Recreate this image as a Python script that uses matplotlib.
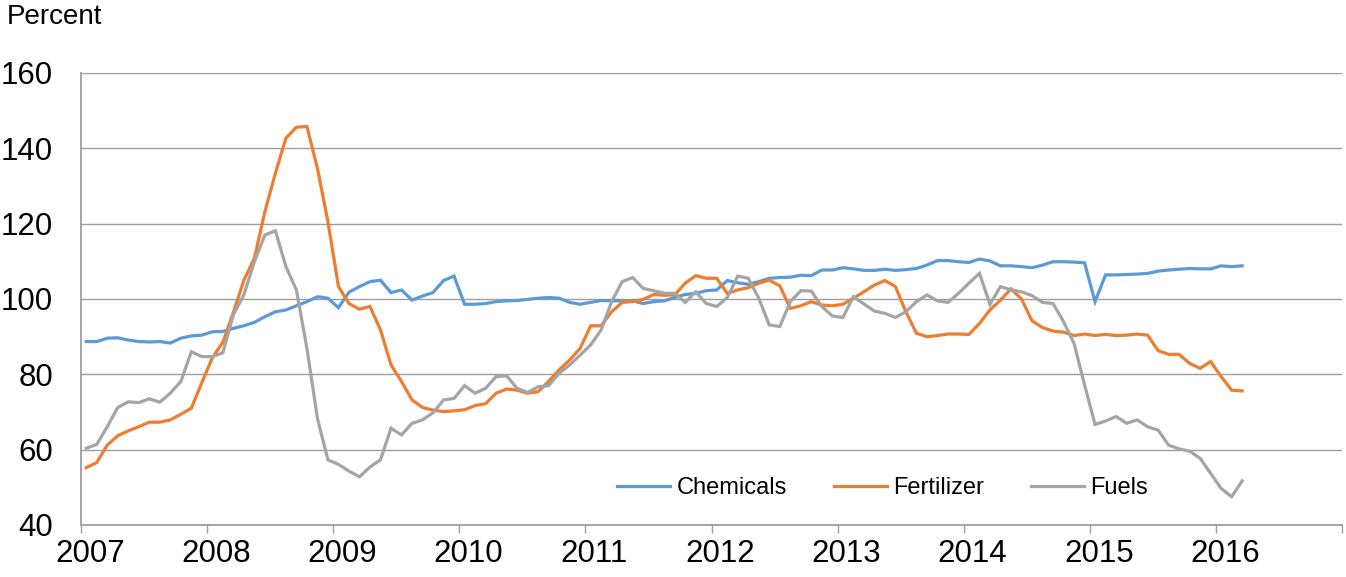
import numpy as np
import matplotlib
matplotlib.use("Agg")
import matplotlib.pyplot as plt

plt.rcParams['font.family'] = ['Liberation Sans', 'DejaVu Sans']

# Monthly data, Jan 2007 - Mar 2016
start_year = 2007
year_labels = ['2007', '2008', '2009', '2010', '2011', '2012', '2013', '2014', '2015', '2016']
y_ticks = [40, 60, 80, 100, 120, 140, 160]

chemicals = [
    88.7, 88.7, 89.6, 89.7, 89.1, 88.7, 88.6, 88.7, 88.3, 89.6, 90.2, 90.4,
    91.3, 91.4, 92.2, 92.9, 93.8, 95.3, 96.6, 97.1, 98.2, 99.3, 100.6, 100.2,
    97.7, 101.8, 103.3, 104.6, 105.0, 101.7, 102.4, 99.7, 100.8, 101.7, 104.9, 106.1,
    98.6, 98.6, 98.8, 99.3, 99.5, 99.6, 99.9, 100.2, 100.4, 100.2, 99.1, 98.6,
    99.1, 99.6, 99.5, 99.5, 99.5, 98.8, 99.3, 99.5, 100.4, 101.2, 101.5, 102.2,
    102.4, 104.9, 104.3, 103.9, 104.6, 105.5, 105.7, 105.8, 106.3, 106.2, 107.7, 107.7,
    108.3, 108.0, 107.6, 107.6, 107.9, 107.6, 107.8, 108.1, 109.0, 110.2, 110.2, 109.9,
    109.7, 110.6, 110.1, 108.8, 108.8, 108.6, 108.3, 109.0, 109.9, 109.9, 109.8, 109.6,
    99.3, 106.4, 106.4, 106.5, 106.6, 106.8, 107.4, 107.7, 107.9, 108.1, 108.0, 108.0,
    108.8, 108.6, 108.8,
]

fertilizer = [
    55.2, 56.6, 61.2, 63.7, 65.0, 66.1, 67.3, 67.3, 67.9, 69.4, 71.0, 77.8,
    84.4, 88.5, 96.4, 105.0, 110.8, 123.2, 133.4, 142.7, 145.6, 145.8, 134.7, 120.5,
    103.3, 98.8, 97.3, 98.0, 91.8, 82.5, 78.1, 73.2, 71.2, 70.5, 70.1, 70.3,
    70.6, 71.7, 72.2, 75.0, 76.1, 75.8, 75.0, 75.4, 78.1, 81.2, 83.8, 86.9,
    92.9, 92.9, 96.6, 99.1, 99.3, 99.9, 101.2, 101.0, 101.1, 104.2, 106.2, 105.5,
    105.5, 101.5, 102.4, 103.0, 104.2, 105.0, 103.5, 97.5, 98.2, 99.3, 98.4, 98.2,
    98.6, 100.2, 101.9, 103.7, 104.9, 103.3, 96.6, 90.9, 90.0, 90.3, 90.7, 90.7,
    90.6, 93.5, 97.1, 99.7, 102.7, 100.0, 94.2, 92.4, 91.5, 91.2, 90.3, 90.7,
    90.3, 90.6, 90.3, 90.4, 90.7, 90.4, 86.3, 85.3, 85.3, 82.9, 81.6, 83.4,
    79.4, 75.8, 75.6,
]

fuels = [
    60.4, 61.4, 66.1, 71.2, 72.7, 72.5, 73.5, 72.6, 75.0, 78.1, 86.0, 84.7,
    84.7, 85.7, 95.8, 101.1, 109.9, 117.0, 118.1, 108.6, 102.4, 86.9, 68.3, 57.3,
    56.1, 54.3, 52.8, 55.4, 57.3, 65.7, 63.9, 67.0, 67.9, 69.8, 73.2, 73.6,
    77.0, 75.0, 76.3, 79.4, 79.6, 76.3, 75.2, 76.7, 77.0, 80.3, 82.5, 85.1,
    87.8, 91.8, 99.3, 104.6, 105.7, 102.8, 102.2, 101.5, 101.5, 99.1, 101.9, 98.8,
    98.0, 100.4, 106.1, 105.5, 100.2, 93.1, 92.7, 99.3, 102.2, 102.1, 98.0, 95.5,
    95.1, 100.6, 98.7, 96.8, 96.2, 95.1, 96.6, 99.3, 101.1, 99.5, 99.1, 101.5,
    104.2, 106.8, 98.6, 103.3, 102.4, 101.9, 100.9, 99.1, 98.8, 94.0, 88.2, 77.2,
    66.7, 67.6, 68.8, 67.0, 67.9, 66.1, 65.2, 61.2, 60.2, 59.6, 57.7, 53.7,
    49.7, 47.5, 51.7,
]

series_names = ['Chemicals', 'Fertilizer', 'Fuels']
colors = ['#5B9BD5', '#ED7D31', '#A5A5A5']

W, H, DPI = 1346, 577, 100
fig = plt.figure(figsize=(W / DPI, H / DPI), dpi=DPI)
ax = fig.add_axes([81 / W, (H - 525) / H, (1342 - 81) / W, (525 - 73) / H])

x = np.arange(len(chemicals)) + 0.5  # month centres
for vals, name, c in zip([chemicals, fertilizer, fuels], series_names, colors):
    ax.plot(x, vals, color=c, lw=2.3, label=name, solid_joinstyle='miter')

n_years = len(year_labels) + 1
ax.set_xlim(0, 12 * (n_years - 1))
ax.set_ylim(40, 160)

grid_c = '#9E9E9E'
ax.set_yticks(y_ticks)
ax.set_yticklabels([str(v) for v in y_ticks])
ax.yaxis.grid(True, color=grid_c, lw=1.0)
ax.set_axisbelow(True)
ax.tick_params(axis='y', length=0, pad=20, labelsize=22.5)

ax.set_xticks(np.arange(0, 12 * n_years - 11, 12))
ax.set_xticklabels([])
ax.set_xticks(np.arange(len(year_labels)) * 12 + 0.85, minor=True)
ax.set_xticklabels(year_labels, minor=True)
ax.tick_params(axis='x', which='major', length=6, width=1, color=grid_c, direction='out')
ax.tick_params(axis='x', which='minor', length=0, pad=10, labelsize=22.5)

for s in ['top', 'right']:
    ax.spines[s].set_visible(False)
ax.spines['left'].set_color(grid_c)
ax.spines['bottom'].set_color(grid_c)
ax.spines['left'].set_linewidth(1.3)
ax.spines['bottom'].set_linewidth(1.3)

leg = ax.legend(loc='center right', bbox_to_anchor=(0.846, 0.082), ncol=3,
                frameon=False, fontsize=17, handlelength=2.25, handletextpad=0.25,
                columnspacing=2.0, borderpad=0, borderaxespad=0)

fig.text(7 / W, 1 - 17 / H, 'Percent', fontsize=20, ha='left', va='center')

fig.savefig('out.png', dpi=DPI)
